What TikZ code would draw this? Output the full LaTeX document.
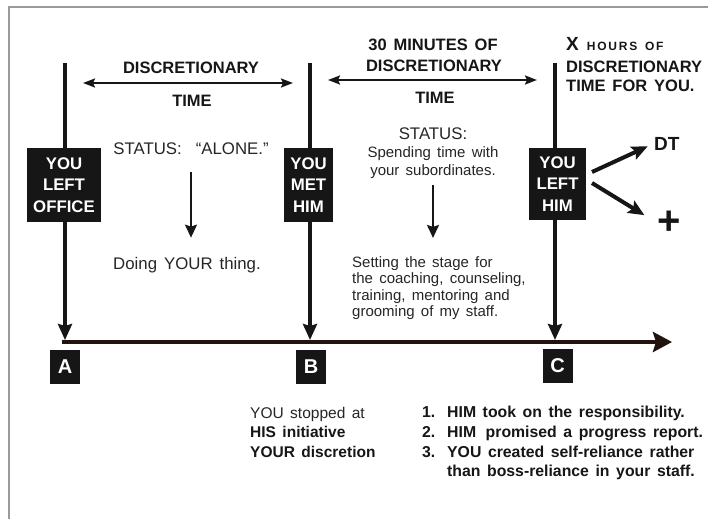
\documentclass[tikz,border=0pt]{standalone}
\usepackage{fontspec}
\setmainfont{Liberation Sans}[WordSpace=1.5]
\usetikzlibrary{arrows.meta}

\definecolor{ink}{HTML}{161616}
\definecolor{txt}{HTML}{262626}
\definecolor{rule}{HTML}{9A9A9A}
\definecolor{axis}{HTML}{22130F}

\newcommand\setfs[2]{\fontsize{#1}{#2}\selectfont}

\tikzset{
  label/.style={inner sep=0pt, text=txt, font=\setfs{16.8}{20}},
  small/.style={inner sep=0pt, text=txt, font=\setfs{15}{18}},
  head/.style={inner sep=0pt, text=ink, font=\setfs{16.5}{20}\bfseries},
  item/.style={inner sep=0pt, text=ink, font=\setfs{15.8}{19}\bfseries},
  event/.style={fill=ink, text=white, inner sep=0pt, align=center,
    font=\setfs{16.8}{21.5}\bfseries},
  tag/.style={fill=ink, text=white, inner sep=0pt, minimum width=30pt,
    minimum height=34pt, font=\setfs{20}{20}\bfseries},
  post/.style={draw=ink, line width=3.5pt},
  drop/.style={post, -{Stealth[length=16pt,width=14pt,inset=2pt]}},
  axisline/.style={draw=axis, line width=4.5pt,
    -{Stealth[length=19pt,width=20pt,inset=3pt]}},
  span/.style={draw=ink, line width=2pt,
    {Stealth[length=12pt,width=9pt,inset=2pt]}-{Stealth[length=12pt,width=9pt,inset=2pt]}},
  down/.style={draw=ink, line width=2pt,
    -{Stealth[length=13pt,width=12pt,inset=2pt]}},
  fork/.style={draw=ink, line width=4pt,
    -{Stealth[length=16pt,width=14pt,inset=3pt]}},
}

\begin{document}
\begin{tikzpicture}[x=1pt,y=-1pt]
\useasboundingbox (0,0) rectangle (708,519);
\fill[white] (0,0) rectangle (708,519);

% page frame
\draw[rule, line width=2pt] (9,519) -- (9,7) -- (708,7);

% event boxes
\node[event, minimum width=74pt, minimum height=74pt] (ea) at (64,185) {YOU\\LEFT\\OFFICE};
\node[event, minimum width=49pt, minimum height=74pt] (eb) at (308.5,185) {YOU\\MET\\HIM};
\node[event, minimum width=57pt, minimum height=72pt] (ec) at (557.5,184) {YOU\\LEFT\\HIM};

% time axis
\coordinate (t0) at (62,342);
\coordinate (t1) at (672,342);
\draw[axisline] (t0) -- (t1);

% vertical posts
\coordinate (pa) at (65,63);  \coordinate (qa) at (65,340);
\coordinate (pb) at (310,63); \coordinate (qb) at (310,340);
\coordinate (pc) at (555,63); \coordinate (qc) at (555,340);
\draw[post] (pa) -- (pa |- ea.north);
\draw[drop] (pa |- ea.south) -- (qa);
\draw[post] (pb) -- (pb |- eb.north);
\draw[drop] (pb |- eb.south) -- (qb);
\draw[post] (pc) -- (pc |- ec.north);
\draw[drop] (pc |- ec.south) -- (qc);

% point tags
\node[tag] (ka) at (65,367) {A};
\node[tag] (kb) at (311,367) {B};
\node[tag] (kc) at (557.5,366) {C};

% first interval
\node[head, anchor=base] (h1) at (191,73) {DISCRETIONARY};
\node[head, anchor=base] (h1t) at (192,106) {TIME};
\coordinate (sa0) at (83,83);
\coordinate (sa1) at (293,83);
\draw[span] (sa0) -- (sa1);
\node[label, anchor=base] (s1) at (191,154) {STATUS:\ \ “ALONE.”};
\node[label, anchor=base] (d1) at (187,269) {Doing YOUR thing.};
\draw[down, shorten <=18pt, shorten >=19pt] (s1.south) -- (s1.south |- d1.north);

% second interval
\node[head, anchor=base] (h2a) at (433,50) {30 MINUTES OF};
\node[head, anchor=base] (h2b) at (434,71) {DISCRETIONARY};
\node[head, anchor=base] (h2c) at (435,103) {TIME};
\coordinate (sb0) at (328,80);
\coordinate (sb1) at (537,80);
\draw[span] (sb0) -- (sb1);
\node[label, anchor=base] (s2a) at (433,139) {STATUS:};
\node[small, anchor=base] (s2b) at (433,157) {Spending time with};
\node[small, anchor=base] (s2c) at (433,175) {your subordinates.};
\node[small, anchor=base west] (g1) at (352,267) {Setting the stage for};
\node[small, anchor=base west] (g2) at (352,283.5) {the coaching, counseling,};
\node[small, anchor=base west] (g3) at (352,300) {training, mentoring and};
\node[small, anchor=base west] (g4) at (352,316.5) {grooming of my staff.};
\draw[down, shorten <=7pt, shorten >=18pt] (s2c.south) -- (s2c.south |- g1.north);

% after C
\node[head, anchor=base west] (x1) at (566,50)
  {\setfs{19}{19}X\ \setfs{12}{12}\addfontfeatures{LetterSpace=15}HOURS OF};
\node[head, anchor=base west] (x2) at (566,72) {DISCRETIONARY};
\node[head, anchor=base west] (x3) at (566,91) {TIME FOR YOU.};
\node[head, anchor=base west, font=\setfs{19}{19}\bfseries] (dt) at (654,150) {DT};
\node[head, font=\setfs{40}{40}\bfseries] (pl) at (669,223) {+};
\coordinate (f1) at (592,172);
\coordinate (f2) at (592,183);
\draw[fork, shorten >=7pt] (f1) -- (dt.west);
\draw[fork, shorten >=15pt] (f2) -- (pl.west);

% notes under the axis
\node[label, anchor=base west, font=\setfs{15.5}{19}] (b1) at (250,418) {YOU stopped at};
\node[item, anchor=base west, font=\setfs{15.5}{19}\bfseries] (b2) at (250,437) {HIS initiative};
\node[item, anchor=base west, font=\setfs{15.5}{19}\bfseries] (b3) at (250,457) {YOUR discretion};

\node[item, anchor=base west] (n1) at (422,417) {1.};
\node[item, anchor=base west] (i1) at (447,417) {HIM took on the responsibility.};
\node[item, anchor=base west] (n2) at (422,437) {2.};
\node[item, anchor=base west] (i2) at (447,437) {HIM\hspace{3pt} promised a progress report.};
\node[item, anchor=base west] (n3) at (422,457) {3.};
\node[item, anchor=base west] (i3) at (447,457) {YOU created self-reliance rather};
\node[item, anchor=base west] (i4) at (447,476) {than boss-reliance in your staff.};
\end{tikzpicture}
\end{document}
